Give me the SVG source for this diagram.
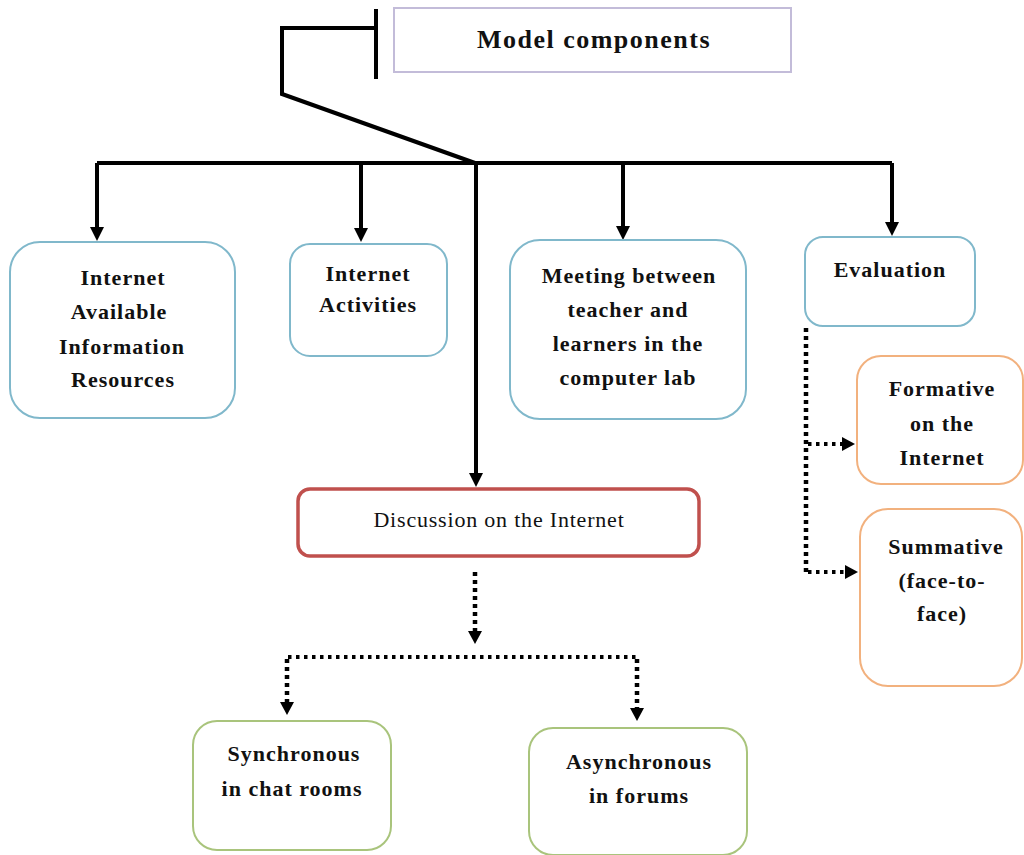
<svg xmlns="http://www.w3.org/2000/svg" width="1024" height="855" viewBox="0 0 1024 855">
<style>
.bg{fill:#ffffff}
.blue{fill:#fff;stroke:#80b8cb;stroke-width:2}
.orange{fill:#fff;stroke:#f2b17e;stroke-width:2}
.green{fill:#fff;stroke:#a9c47c;stroke-width:2}
.red{fill:#fff;stroke:#c0504d;stroke-width:3.5}
.title{fill:#fff;stroke:#c3bcd9;stroke-width:2}
.t{font-family:"Liberation Serif",serif;font-size:22px;font-weight:bold;fill:#111;text-anchor:middle;letter-spacing:1px}
.tr{font-family:"Liberation Serif",serif;font-size:22px;fill:#111;text-anchor:middle;letter-spacing:0.8px}
.tt{font-family:"Liberation Serif",serif;font-size:26px;font-weight:bold;fill:#111;text-anchor:middle;letter-spacing:1.5px}
.solid{fill:none;stroke:#000;stroke-width:4}
.dotv{fill:none;stroke:#000;stroke-width:4.5;stroke-dasharray:4 4}
.doth{fill:none;stroke:#000;stroke-width:4;stroke-dasharray:3.5 4.5}
</style>
<defs>
<marker id="ah" markerUnits="userSpaceOnUse" markerWidth="16" markerHeight="16" refX="2" refY="7" orient="auto"><path d="M0,0 L14,7 L0,14 z" fill="#000"/></marker>
<marker id="ahs" markerUnits="userSpaceOnUse" markerWidth="16" markerHeight="16" refX="2" refY="7" orient="auto"><path d="M0,0 L13,7 L0,14 z" fill="#000"/></marker>
</defs>
<rect class="bg" x="0" y="0" width="1024" height="855"/>

<g id="connectors">
<path class="solid" d="M376,9 V79 M376,28 H282 V94 L475,163"/>
<path class="solid" d="M97,163 H892"/>
<path class="solid" d="M97,163 V229" marker-end="url(#ah)"/>
<path class="solid" d="M361,163 V230" marker-end="url(#ah)"/>
<path class="solid" d="M476,163 V475" marker-end="url(#ah)"/>
<path class="solid" d="M623,163 V228" marker-end="url(#ah)"/>
<path class="solid" d="M892,163 V224" marker-end="url(#ah)"/>
<path class="dotv" d="M806,328 V572"/>
<path class="doth" d="M808,444 H844" marker-end="url(#ahs)"/>
<path class="doth" d="M808,572 H847" marker-end="url(#ahs)"/>
<path class="dotv" d="M475,572 V633" marker-end="url(#ahs)"/>
<path class="doth" d="M288,657 H637"/>
<path class="dotv" d="M287,659 V704" marker-end="url(#ahs)"/>
<path class="dotv" d="M637,659 V710" marker-end="url(#ahs)"/>
</g>

<g id="model-components">
<rect class="title" x="394" y="8" width="397" height="64"/>
<text class="tt" x="594" y="48">Model components</text>
</g>

<g id="internet-available">
<rect class="blue" x="10" y="242" width="225" height="176" rx="30"/>
<text class="t" x="123" y="285">Internet</text>
<text class="t" x="119" y="319">Available</text>
<text class="t" x="122" y="354">Information</text>
<text class="t" x="123" y="387">Resources</text>
</g>

<g id="internet-activities">
<rect class="blue" x="290" y="244" width="157" height="112" rx="20"/>
<text class="t" x="368" y="281">Internet</text>
<text class="t" x="368" y="312">Activities</text>
</g>

<g id="meeting">
<rect class="blue" x="510" y="240" width="236" height="179" rx="30"/>
<text class="t" x="629" y="283">Meeting between</text>
<text class="t" x="628" y="317">teacher and</text>
<text class="t" x="628" y="351">learners in the</text>
<text class="t" x="628" y="385">computer lab</text>
</g>

<g id="evaluation">
<rect class="blue" x="805" y="237" width="170" height="89" rx="18"/>
<text class="t" x="890" y="277">Evaluation</text>
</g>

<g id="formative">
<rect class="orange" x="857" y="356" width="166" height="128" rx="24"/>
<text class="t" x="942" y="396">Formative</text>
<text class="t" x="942" y="431">on the</text>
<text class="t" x="942" y="465">Internet</text>
</g>

<g id="summative">
<rect class="orange" x="860" y="509" width="162" height="177" rx="28"/>
<text class="t" x="946" y="554">Summative</text>
<text class="t" x="942" y="588">(face-to-</text>
<text class="t" x="942" y="621">face)</text>
</g>

<g id="discussion">
<rect class="red" x="298" y="489" width="401" height="67" rx="12"/>
<text class="tr" x="499" y="527">Discussion on the Internet</text>
</g>

<g id="synchronous">
<rect class="green" x="193" y="721" width="198" height="129" rx="24"/>
<text class="t" x="294" y="761">Synchronous</text>
<text class="t" x="292" y="796">in chat rooms</text>
</g>

<g id="asynchronous">
<rect class="green" x="529" y="728" width="218" height="127" rx="24"/>
<text class="t" x="639" y="769">Asynchronous</text>
<text class="t" x="639" y="803">in forums</text>
</g>
</svg>
